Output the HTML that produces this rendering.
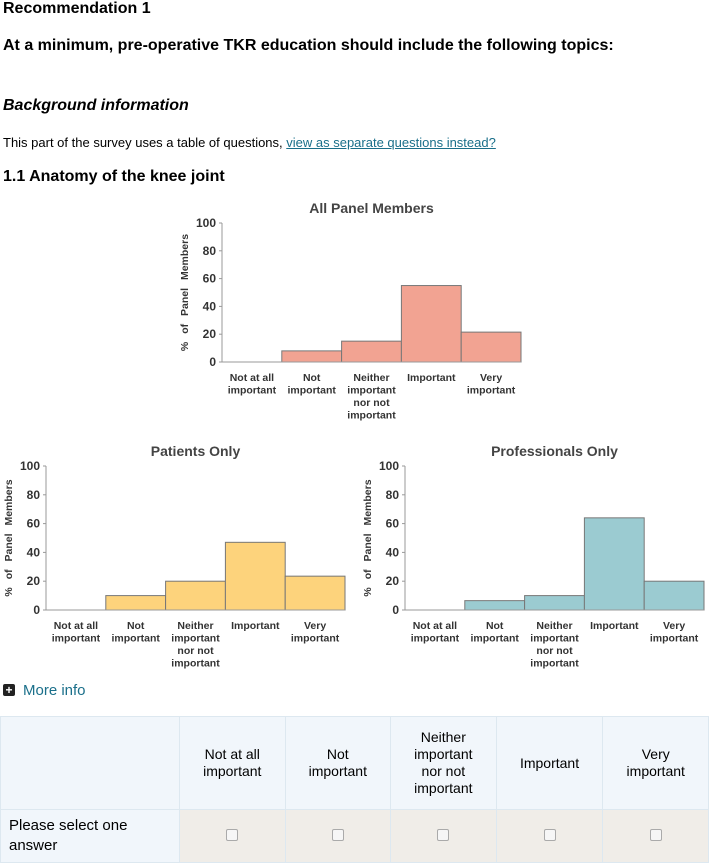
<!DOCTYPE html>
<html><head><meta charset="utf-8"><style>
body{margin:0;width:709px;height:863px;overflow:hidden;background:#fff;font-family:"Liberation Sans",sans-serif;color:#000;position:relative}
.abs{position:absolute}
h1{position:absolute;margin:0;font-size:16px;font-weight:bold}
table{position:absolute;left:0;top:716px;width:709px;border-collapse:collapse;font-size:14px;line-height:17px}
td{border:1px solid #dde8f0;text-align:center;vertical-align:middle}
.cb{display:inline-block;width:10px;height:10px;border:1px solid #aaa;border-radius:2px;background:#f6f6f6}
</style></head><body>
<h1 style="left:3px;top:0px">Recommendation 1</h1>
<h1 style="left:3px;top:37px">At a minimum, pre-operative TKR education should include the following topics:</h1>
<h1 style="left:3px;top:97px;font-style:italic">Background information</h1>
<div class="abs" style="left:3px;top:135px;font-size:13px">This part of the survey uses a table of questions, <a href="#" style="color:#1a6f8a">view as separate questions instead?</a></div>
<h1 style="left:3px;top:168px">1.1 Anatomy of the knee joint</h1>
<svg id="charts" class="abs" style="left:0;top:0" width="709" height="680"></svg>
<div class="abs" style="left:3px;top:682px;font-size:15px;color:#1a6f8a"><span style="display:inline-block;width:12px;height:12px;background:#222;color:#fff;font-size:12px;line-height:12px;text-align:center;font-weight:bold;border-radius:2px;vertical-align:1px;margin-right:8px">+</span>More info</div>
<table>
<tr style="height:93px;background:#f1f6fb"><td style="width:176px"></td><td>Not at all<br>important</td><td>Not<br>important</td><td>Neither<br>important<br>nor not<br>important</td><td>Important</td><td>Very<br>important</td></tr>
<tr style="height:53px;background:#f0ede8"><td style="background:#f1f6fb;text-align:left;padding-left:8px;font-size:15px;line-height:20px">Please select one<br>answer</td>
<td><span class="cb"></span></td>
<td><span class="cb"></span></td>
<td><span class="cb"></span></td>
<td><span class="cb"></span></td>
<td><span class="cb"></span></td></tr>
</table>
<script>
const categories=[["Not at all","important"],["Not","important"],["Neither","important","nor not","important"],["Important"],["Very","important"]];
const allValues=[0,8,15,55,21.5];
const patientValues=[0,10,20,47,23.5];
const profValues=[0,6.5,10,64,20];
const yTicks=[0,20,40,60,80,100];
const NS="http://www.w3.org/2000/svg";
const svg=document.getElementById('charts');
function mk(t,a){const e=document.createElementNS(NS,t);for(const k in a)e.setAttribute(k,a[k]);svg.appendChild(e);return e;}
function chart(name,title,vals,x0,y0,y100,bw,fill){
  const y=v=>y0-(y0-y100)*v/100;
  const x=i=>x0+i*bw;
  let t=mk('text',{x:x0+bw*2.5,y:y100-10,'text-anchor':'middle','font-size':14,'font-weight':'bold',fill:'#444'});t.textContent=title;
  
  
  yTicks.forEach(v=>{const l=mk('text',{x:x0-6,y:y(v)+4,'text-anchor':'end','font-size':12,'font-weight':'bold',fill:'#333'});l.textContent=v;
    
    
    mk('line',{x1:x0-3,x2:x0,y1:y(v),y2:y(v),stroke:'#999'});});
  const yt=mk('text',{transform:`translate(${x0-34},${(y0+y100)/2}) rotate(-90)`,'text-anchor':'middle','font-size':10.5,'font-weight':'bold',fill:'#333','word-spacing':'5px'});yt.textContent='%  of  Panel  Members';
  
  
  vals.forEach((v,i)=>{
    if(v>0){const r=mk('rect',{x:x(i),y:y(v),width:bw,height:y0-y(v),fill:fill,stroke:'#777','stroke-width':1});
    
    }
    const lab=mk('text',{x:x(i)+bw/2,'text-anchor':'middle','font-size':10.5,'font-weight':'bold',fill:'#333'});
    
    
    categories[i].forEach((s,j)=>{const ts=document.createElementNS(NS,'tspan');ts.setAttribute('x',x(i)+bw/2);ts.setAttribute('y',y0+19+j*12.5);ts.textContent=s;lab.appendChild(ts);});
  });
  mk('line',{x1:x0,x2:x0,y1:y100,y2:y0,stroke:'#999'});
  mk('line',{x1:x0,x2:x0+bw*5,y1:y0,y2:y0,stroke:'#999'});
}
chart('all','All Panel Members',allValues,222,362,223,59.8,'#f2a392');
chart('patients','Patients Only',patientValues,46,610,466,59.8,'#fdd37c');
chart('professionals','Professionals Only',profValues,405,610,466,59.8,'#9bcbd1');
</script>
</body></html>
